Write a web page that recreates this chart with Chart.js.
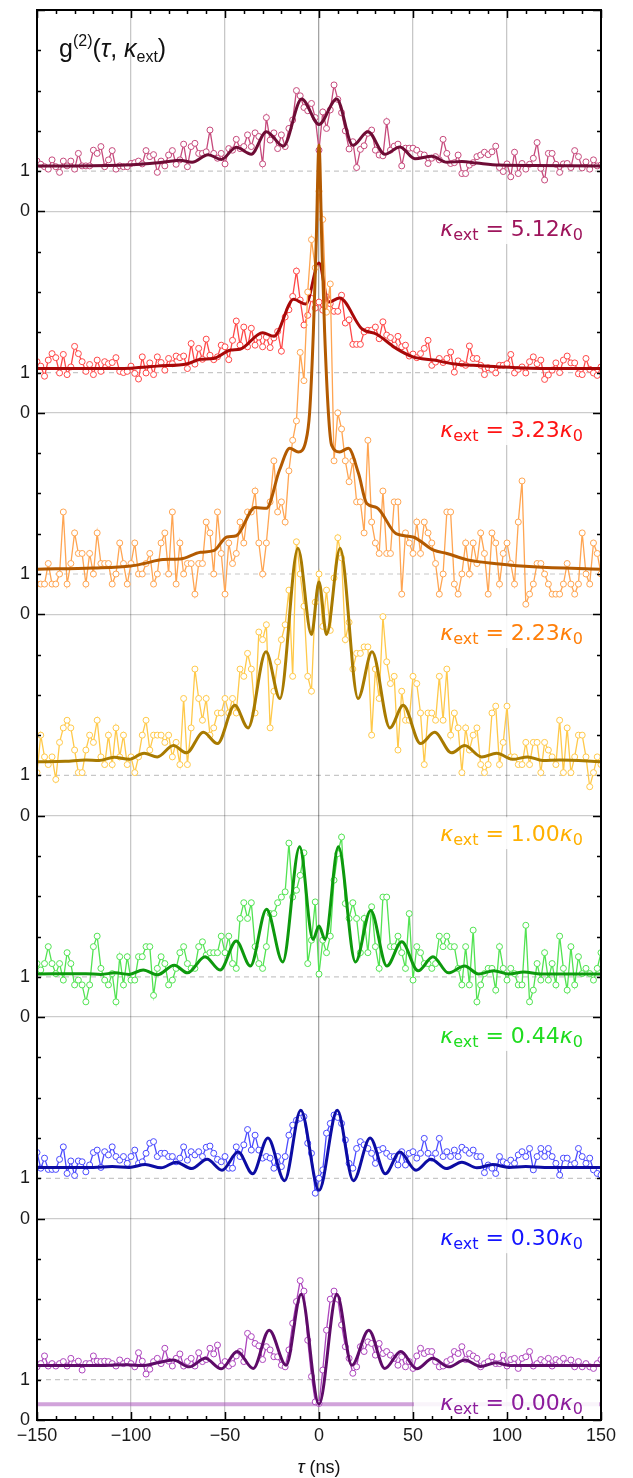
<!DOCTYPE html>
<html>
<head>
<meta charset="utf-8">
<script src="https://cdn.jsdelivr.net/npm/chart.js@4.4.1/dist/chart.umd.min.js"></script>
<style>
  html, body { margin: 0; padding: 0; background: #fff; }
  #wrap { width: 633px; height: 1478px; }
</style>
</head>
<body>
<div id="wrap"><canvas id="g2Chart" width="633" height="1478"></canvas></div>
<script>
// ── Delay axis (ns), one sample every 2 ns ──────────────────
const TAU = [
  -150,-148,-146,-144,-142,-140,-138,-136,-134,-132,
  -130,-128,-126,-124,-122,-120,-118,-116,-114,-112,
  -110,-108,-106,-104,-102,-100,-98,-96,-94,-92,
  -90,-88,-86,-84,-82,-80,-78,-76,-74,-72,
  -70,-68,-66,-64,-62,-60,-58,-56,-54,-52,
  -50,-48,-46,-44,-42,-40,-38,-36,-34,-32,
  -30,-28,-26,-24,-22,-20,-18,-16,-14,-12,
  -10,-8,-6,-4,-2,0,2,4,6,8,
  10,12,14,16,18,20,22,24,26,28,
  30,32,34,36,38,40,42,44,46,48,
  50,52,54,56,58,60,62,64,66,68,
  70,72,74,76,78,80,82,84,86,88,
  90,92,94,96,98,100,102,104,106,108,
  110,112,114,116,118,120,122,124,126,128,
  130,132,134,136,138,140,142,144,146,148,
  150
];

// ── Measured g2 per panel (unshifted) ───────────────────────
const G_512 = [
  1.25,1.17,1.11,1.05,1.28,1.11,0.97,1.25,1.13,1.25,
  1.05,1.44,1.13,1.13,1.13,1.52,1.44,1.61,1.11,1.28,
  1.51,1.05,1.13,1.11,1.11,1.19,1.21,1.25,1.18,1.51,
  1.36,1.41,0.97,1.25,1.13,1.40,1.51,1.17,1.28,1.67,
  1.11,1.61,1.69,1.44,1.44,1.48,2.02,1.44,1.32,1.44,
  1.18,1.56,1.52,1.79,1.56,1.61,1.90,1.61,1.95,1.86,
  1.18,2.33,1.77,1.95,1.56,1.90,1.61,2.06,2.27,3.00,
  2.87,2.58,2.50,2.68,2.33,
  1.52,2.47,2.06,2.52,3.14,2.78,2.45,2.00,1.55,1.73,
  1.09,1.54,1.63,1.94,2.02,1.52,1.40,1.38,2.23,1.52,
  1.62,1.67,1.13,1.57,1.57,1.57,1.52,1.42,1.40,1.19,
  1.32,1.36,1.28,1.79,1.44,1.19,1.21,1.40,0.94,0.94,
  1.15,1.21,1.36,1.40,1.47,1.41,1.48,1.62,1.09,0.99,
  1.18,0.86,1.47,0.94,1.19,1.05,1.17,1.32,1.71,1.07,
  0.78,1.44,1.44,1.17,0.97,1.18,1.19,1.09,1.51,1.36,
  1.08,1.23,1.05,1.28,1.13,1.15
];
const G_323 = [
  1.27,1.16,0.91,1.31,1.47,1.37,0.99,1.45,0.95,1.14,
  1.65,1.47,1.27,1.03,1.20,0.95,1.31,1.03,1.27,1.22,
  1.25,1.37,1.03,1.00,1.03,1.16,0.98,0.84,1.39,0.99,
  1.24,0.95,1.39,1.25,1.06,1.35,1.22,1.41,1.37,1.41,
  1.10,1.72,1.21,1.60,1.33,1.83,1.43,1.32,1.39,1.68,
  1.64,1.32,1.80,2.28,1.68,2.13,1.64,2.10,1.68,1.88,
  1.64,1.88,1.62,1.86,2.02,1.53,2.38,2.56,2.89,3.52,
  2.80,2.18,2.42,2.84,2.60,
  2.75,2.55,2.88,2.71,2.52,2.52,2.92,2.23,2.31,1.70,
  1.70,1.70,2.01,2.05,2.05,2.13,1.84,2.26,1.93,1.87,
  1.68,1.90,1.64,1.68,1.41,1.46,1.37,1.47,1.60,1.80,
  1.18,1.26,1.35,1.25,1.35,1.51,1.01,1.29,1.22,1.18,
  1.66,1.35,1.35,1.18,0.95,1.12,1.08,0.99,1.18,1.18,
  1.22,1.45,0.99,1.08,1.14,0.99,1.27,1.39,1.22,1.31,
  0.83,0.94,1.06,1.24,1.00,1.31,1.41,1.24,1.24,0.97,
  0.95,1.35,1.08,0.99,0.93,1.14
];
const G_223 = [
  0.75,0.75,0.75,1.26,0.75,0.75,1.00,2.54,0.75,1.26,
  2.02,1.51,1.51,0.75,1.51,1.00,2.02,1.26,1.26,1.26,
  0.75,1.00,1.77,1.26,0.75,1.26,1.77,1.00,1.00,1.26,
  1.51,0.75,1.00,1.77,2.02,1.00,2.54,0.75,1.77,1.00,
  1.26,1.26,0.50,1.26,1.26,2.29,2.02,1.00,2.54,1.51,
  0.50,1.77,1.26,1.51,2.29,1.77,2.54,2.54,3.06,1.77,
  1.00,1.77,2.79,3.81,2.54,2.79,2.29,3.56,4.32,
  4.80,6.50,5.80,8.00,9.30,8.60,10.50,9.80,7.50,8.20,
  3.81,5.00,4.60,
  3.81,3.29,3.81,2.79,2.79,2.02,4.32,2.29,1.77,1.51,
  3.06,1.51,1.51,2.79,2.79,0.50,2.02,1.77,1.51,2.29,
  1.51,2.29,2.02,1.77,1.26,0.50,1.00,2.54,2.54,0.75,
  0.50,1.00,1.77,1.00,1.77,1.26,2.02,1.51,0.50,2.02,
  1.77,0.75,1.51,1.77,1.26,0.75,2.29,3.31,0.25,0.50,
  0.75,1.26,1.26,1.00,0.75,0.50,0.50,0.50,0.75,1.26,
  0.75,0.50,0.75,2.02,1.00,0.75,1.77,1.51,1.00
];
const G_100 = [
  1.07,2.00,1.46,1.27,1.46,0.90,1.82,2.18,2.37,2.18,
  1.63,1.07,1.07,1.63,2.00,1.82,2.37,1.46,1.27,2.00,
  1.27,2.18,1.46,2.00,1.27,1.46,1.07,1.46,2.00,2.37,
  1.63,2.00,2.00,2.00,1.82,2.00,1.46,1.82,1.27,2.91,
  1.27,2.18,3.64,2.91,2.37,2.91,2.00,2.18,2.55,2.55,
  2.91,2.55,2.91,2.55,3.64,3.46,4.03,3.64,2.55,4.56,
  4.37,4.74,2.18,3.09,3.82,4.37,4.74,
  5.60,3.46,6.80,6.00,5.20,3.46,3.09,5.30,6.00,4.70,5.60,4.60,5.90,6.90,6.40,
  4.37,4.80,3.64,4.03,4.03,4.19,4.19,2.00,3.64,2.91,
  4.94,3.82,3.28,3.46,1.63,3.09,2.37,2.37,3.46,3.28,
  2.55,1.27,2.55,2.55,2.37,3.46,2.37,3.64,2.00,2.55,
  2.18,1.07,2.18,1.63,2.00,2.18,1.27,1.07,1.27,2.55,
  2.72,1.27,1.82,2.72,1.46,1.46,1.27,1.27,1.82,1.27,
  1.82,1.82,1.07,1.82,1.63,1.46,1.27,2.37,1.07,2.18,
  1.07,1.46,2.00,2.00,1.46,0.72,1.07,1.46,1.27
];
const G_044 = [
  1.33,1.17,1.33,1.75,1.33,1.08,1.33,0.92,1.60,1.33,
  0.80,0.92,0.80,0.38,0.80,1.75,2.01,1.21,0.92,0.80,
  1.08,0.38,1.50,0.80,1.50,0.92,0.92,1.50,1.50,1.75,
  1.75,0.54,1.21,1.50,1.33,0.80,0.92,1.21,1.60,1.75,
  1.33,1.21,1.21,1.75,1.87,1.54,1.60,1.60,1.60,2.01,
  1.60,2.01,1.33,1.21,2.45,2.84,2.45,2.84,1.75,1.33,
  1.21,1.75,2.57,2.57,2.84,2.98,3.11,4.32,2.98,3.15,
  3.52,4.08,1.33,1.91,2.86,1.07,1.91,1.60,2.01,3.40,
  4.06,4.47,2.82,2.45,2.84,2.45,1.60,2.45,1.60,2.74,
  1.75,1.21,2.98,2.98,1.75,1.75,2.01,1.60,1.21,2.57,
  0.92,1.75,1.60,1.33,1.33,1.21,1.33,2.01,1.75,2.01,
  1.75,1.75,1.21,0.80,1.75,0.80,2.16,0.38,0.80,1.08,
  1.21,1.21,0.67,1.75,1.21,0.92,1.21,1.08,0.80,0.80,
  2.28,0.38,0.67,1.33,0.92,1.60,0.92,1.33,0.80,2.01,
  1.21,0.67,1.75,0.80,1.50,1.08,1.21,1.08,0.92,1.21,
  1.60
];
const G_030 = [
  1.64,1.25,1.50,1.22,1.22,1.22,1.47,1.78,1.12,1.43,
  1.07,1.43,1.41,1.16,1.33,1.64,1.70,1.27,1.66,1.58,
  1.78,1.54,1.45,1.54,1.37,1.54,1.70,1.37,1.41,1.62,
  1.87,1.91,1.54,1.62,1.62,1.54,1.54,1.41,1.50,1.78,
  1.45,1.66,1.58,1.66,1.54,1.77,1.80,1.62,1.47,1.41,
  1.54,1.25,1.25,1.78,1.54,1.83,2.21,1.70,2.07,1.70,
  1.50,1.54,1.50,1.25,1.54,1.29,1.54,2.07,2.32,2.44,
  2.49,2.53,1.87,1.62,0.63,1.00,1.21,2.12,2.36,2.57,
  2.51,2.36,1.95,1.37,1.25,1.74,1.91,1.83,1.74,1.62,
  1.37,1.70,1.74,1.62,1.54,1.54,1.33,1.66,1.33,1.62,
  1.66,1.50,1.62,1.99,1.62,1.50,1.62,1.99,1.54,1.66,
  1.54,1.70,1.54,1.77,1.70,1.62,1.70,1.54,1.54,1.14,
  1.33,1.25,1.12,1.54,1.41,1.37,1.45,1.37,1.58,1.66,
  1.54,1.74,1.21,1.54,1.74,1.54,1.74,1.54,1.37,1.08,
  1.50,1.50,1.33,1.37,1.74,1.54,1.37,1.50,1.21,1.12,
  1.08
];
const G_000 = [
  1.32,1.40,1.59,1.34,1.40,1.34,1.40,1.45,1.34,1.53,
  1.40,1.46,1.24,1.40,1.40,1.59,1.46,1.45,1.46,1.45,
  1.40,1.34,1.49,1.40,1.46,1.40,1.32,1.67,1.46,1.14,
  1.26,1.45,1.53,1.40,1.78,1.46,1.34,1.53,1.64,1.34,
  1.45,1.53,1.34,1.67,1.45,1.50,1.78,1.64,1.86,1.34,
  1.45,1.34,1.40,1.59,1.70,1.45,2.15,2.07,1.90,1.84,
  1.50,1.82,1.74,1.57,1.57,1.36,1.32,1.74,2.40,2.94,
  3.46,3.20,1.98,1.08,0.45,0.41,1.24,2.23,3.00,3.20,
  3.00,2.36,1.82,1.53,1.16,1.32,1.82,1.70,1.94,1.90,
  1.61,1.90,1.65,1.70,1.61,1.53,1.36,1.57,1.32,1.45,
  1.28,1.59,1.78,1.65,1.70,1.70,1.45,1.32,1.34,1.45,
  1.50,1.70,1.65,1.82,1.50,1.65,1.59,1.53,1.32,1.40,
  1.45,1.57,1.40,1.40,1.61,1.34,1.50,1.53,1.28,1.53,
  1.57,1.70,1.34,1.40,1.50,1.45,1.53,1.34,1.50,1.45,
  1.53,1.40,1.49,1.32,1.45,1.32,1.40,1.32,1.28,1.40,
  1.50
];

// ── Model curves: [tau, g2] read at extrema / shoulders ─────
const FIT_512 = [[-150,1.13],[-130,1.13],[-112,1.14],[-100,1.16],[-90,1.19],[-80,1.24],[-74,1.27],[-67.5,1.22],[-59,1.41],[-52,1.29],[-44,1.59],[-36,1.42],[-28,1.98],[-19,1.62],[-9.2,2.79],[0,2.16],[9.4,2.79],[18,1.64],[26,1.98],[35,1.42],[43,1.6],[51,1.31],[60,1.37],[68,1.22],[76,1.24],[84,1.2],[96,1.15],[115,1.14],[150,1.13]];
const FIT_323 = [[-150,1.1],[-120,1.1],[-100,1.11],[-86,1.16],[-70,1.22],[-63,1.33],[-56,1.35],[-47,1.56],[-42,1.58],[-30,1.99],[-24,1.9],[-13.5,2.82],[-7,2.7],[0,3.72],[5,2.75],[11,2.85],[22.7,2.09],[30.7,1.95],[41,1.6],[50,1.39],[61,1.31],[71,1.22],[82,1.18],[96,1.14],[123,1.1],[150,1.1]];
const FIT_223 = [[-150,1.12],[-120,1.15],[-100,1.2],[-93,1.26],[-83,1.36],[-74,1.37],[-63,1.54],[-56,1.58],[-49,1.92],[-44,1.95],[-34,2.65],[-28,2.63],[-21,3.58],[-15.5,4.12],[-11,4.03],[-7,4.3],[-5,5.0],[-3,7.0],[-1.5,9.2],[0,11.65],[1.5,9.2],[3,7.0],[5,5.0],[6.7,4.2],[11,4.03],[15.6,4.12],[21,3.5],[25.4,2.75],[30.7,2.65],[41,2.0],[50,1.92],[61,1.59],[68,1.51],[79,1.35],[96,1.25],[114,1.18],[150,1.12]];
const FIT_100 = [[-150,1.34],[-135,1.35],[-124,1.38],[-117,1.37],[-109,1.45],[-101,1.4],[-93,1.55],[-86,1.46],[-77.5,1.74],[-70.5,1.56],[-61.5,2.07],[-54,1.79],[-44.8,2.74],[-37.7,2.18],[-28.2,4.07],[-20.8,2.91],[-11.2,6.64],[-4,4.5],[0,5.8],[4,4.5],[11.2,6.64],[20.8,2.91],[28.2,4.07],[37.7,2.18],[44.8,2.74],[54,1.79],[61.5,2.07],[70.5,1.56],[77.5,1.74],[86.5,1.46],[94.5,1.55],[103,1.4],[111,1.46],[119,1.37],[128,1.38],[150,1.34]];
const FIT_044 = [[-150,1.07],[-124,1.08],[-116,1.06],[-108.5,1.1],[-101,1.06],[-93.5,1.17],[-86,1.05],[-77,1.29],[-70,1.1],[-60.6,1.5],[-52.6,1.17],[-44,1.89],[-36.5,1.27],[-27.9,2.68],[-19.3,1.37],[-10.3,4.23],[-3.2,1.93],[0,2.26],[3.2,1.93],[10.3,4.23],[19.4,1.37],[27.5,2.65],[36.1,1.27],[44,1.87],[52.7,1.15],[60.6,1.5],[68.8,1.1],[77.4,1.27],[84.9,1.07],[92.9,1.15],[101,1.07],[109,1.12],[118,1.07],[150,1.07]];
const FIT_030 = [[-150,1.27],[-120,1.27],[-110,1.29],[-101,1.27],[-92.4,1.34],[-84,1.26],[-76,1.4],[-67.7,1.24],[-59.5,1.47],[-51.6,1.2],[-43,1.65],[-35.3,1.11],[-27.2,2.0],[-18.3,0.94],[-9.7,2.69],[0,0.7],[9.7,2.69],[18.3,0.94],[27.2,2.0],[35.3,1.11],[43,1.65],[51.6,1.2],[59.5,1.47],[67.7,1.24],[76,1.4],[84,1.26],[92.4,1.34],[101,1.27],[110,1.29],[120,1.27],[150,1.27]];
const FIT_000 = [[-150,1.35],[-120,1.35],[-102,1.37],[-94,1.35],[-86,1.42],[-77.5,1.49],[-69,1.32],[-60.5,1.53],[-52,1.27],[-43.5,1.7],[-35,1.28],[-26.5,2.23],[-17.5,1.36],[-9.5,3.12],[0,0.39],[9.5,3.12],[17.5,1.36],[26.5,2.23],[35,1.28],[43.5,1.7],[52,1.27],[60.5,1.53],[69,1.32],[77.5,1.49],[86,1.33],[94,1.42],[102,1.35],[120,1.35],[150,1.35]];

// κ_ext / κ_0 for each panel, top to bottom
const KAPPA = ["5.12", "3.23", "2.23", "1.00", "0.44", "0.30", "0.00"];
const G2_ZERO = 0.39;   // g2(0) level marked in the κ_ext = 0 panel

// ── Layout / style (not data) ───────────────────────────────
const OFFSETS = [30, 25, 20, 15, 10, 5, 0];
const LABEL_Y = [29.39, 24.40, 19.36, 14.37, 9.36, 4.34, 0.25];
const DATA_COLORS  = ["#c64a7c", "#ff4848", "#ffa552", "#ffc94a", "#52e352", "#4a4aff", "#ad45bd"];
const FIT_COLORS   = ["#6e0c35", "#a80808", "#b35a00", "#a87a00", "#0d990d", "#0c0ca3", "#5e0b68"];
const LABEL_COLORS = ["#9e155c", "#ff1414", "#ff7f0a", "#ffb000", "#1fdc1f", "#1414ff", "#8c1c9c"];
const SERIES = [G_512, G_323, G_223, G_100, G_044, G_030, G_000];
const FITS   = [FIT_512, FIT_323, FIT_223, FIT_100, FIT_044, FIT_030, FIT_000];

/* ── Datasets (index 0 ends up on top) ─────────────────────*/
const datasets = [];
for (let i = SERIES.length - 1; i >= 0; i--) {
  const off = OFFSETS[i];
  datasets.push({
    data: FITS[i].map(([t, g]) => ({ x: t, y: g + off })),
    borderColor: FIT_COLORS[i], borderWidth: 3, pointRadius: 0,
    cubicInterpolationMode: "monotone", fill: false
  });
  datasets.push({
    data: TAU.map((t, j) => ({ x: t, y: SERIES[i][j] + off })),
    borderColor: DATA_COLORS[i], borderWidth: 1.3, tension: 0, fill: false,
    pointRadius: 3, pointBorderWidth: 1, pointBackgroundColor: "#fff", pointBorderColor: DATA_COLORS[i]
  });
}
OFFSETS.forEach(off => datasets.push({
  data: [{ x: -150, y: off + 1 }, { x: 150, y: off + 1 }],
  borderColor: "rgba(0,0,0,0.22)", borderDash: [5, 4], borderWidth: 1.2, pointRadius: 0
}));
datasets.push({
  data: [{ x: -150, y: G2_ZERO }, { x: 150, y: G2_ZERO }],
  borderColor: "rgba(172,88,188,0.55)", borderWidth: 4, pointRadius: 0
});

/* ── Helpers ────────────────────────────────────────────────*/
function drawRuns(ctx, runs, x, yBase, align) {
  let w = 0;
  runs.forEach(r => { ctx.font = r.font; r.w = ctx.measureText(r.t).width; w += r.w; });
  let xx = align === "right" ? x - w : align === "center" ? x - w / 2 : x;
  ctx.textAlign = "left";
  ctx.textBaseline = "alphabetic";
  runs.forEach(r => { ctx.font = r.font; ctx.fillText(r.t, xx, yBase + (r.dy || 0)); xx += r.w; });
}

const SANS = '"Liberation Sans", Arial, sans-serif';
const DJV = '"DejaVu Sans", sans-serif';

/* ── Decorations: labels, frame, inward ticks ───────────────*/
const decor = {
  id: "decor",
  afterDatasetsDraw(chart) {
    const { ctx, chartArea: a, scales: { x, y } } = chart;
    ctx.save();

    // kappa labels on translucent white boxes
    KAPPA.forEach((k, i) => {
      const base = y.getPixelForValue(LABEL_Y[i]);
      const top = i === KAPPA.length - 1 ? base - 21 : y.getPixelForValue(OFFSETS[i]) + 1.5;
      ctx.fillStyle = "rgba(255,255,255,0.88)";
      ctx.fillRect(414, top, a.right - 416, base + 8 - top);
      ctx.fillStyle = LABEL_COLORS[i];
      drawRuns(ctx, [
        { t: "\u03BA", font: "oblique 22px " + DJV },
        { t: "ext", font: "16px " + DJV, dy: 4 },
        { t: " = " + k, font: "22px " + DJV },
        { t: "\u03BA", font: "oblique 22px " + DJV },
        { t: "0", font: "16px " + DJV, dy: 4 }
      ], 583, base, "right");
    });

    // frame
    ctx.strokeStyle = "#000";
    ctx.lineWidth = 2;
    ctx.strokeRect(a.left, a.top, a.right - a.left, a.bottom - a.top);

    // inward ticks
    ctx.lineWidth = 1.5;
    ctx.beginPath();
    for (let v = 0; v <= 35; v++) {
      const py = Math.round(y.getPixelForValue(v)) + 0.5;
      const len = v % 5 === 0 ? 8 : 4;
      ctx.moveTo(a.left, py); ctx.lineTo(a.left + len, py);
      ctx.moveTo(a.right, py); ctx.lineTo(a.right - len, py);
    }
    for (let t = -150; t <= 150; t += 10) {
      const px = Math.round(x.getPixelForValue(t)) + 0.5;
      const len = t % 50 === 0 ? 8 : 4;
      ctx.moveTo(px, a.top); ctx.lineTo(px, a.top + len);
      ctx.moveTo(px, a.bottom); ctx.lineTo(px, a.bottom - len);
    }
    ctx.stroke();

    // plot title
    ctx.fillStyle = "#111";
    drawRuns(ctx, [
      { t: "g", font: "25px " + SANS },
      { t: "(2)", font: "16px " + SANS, dy: -11 },
      { t: "(", font: "25px " + SANS },
      { t: "\u03C4", font: "italic 25px " + SANS },
      { t: ", ", font: "25px " + SANS },
      { t: "\u03BA", font: "italic 25px " + SANS },
      { t: "ext", font: "16px " + SANS, dy: 5 },
      { t: ")", font: "25px " + SANS }
    ], 59, 57, "left");

    // x-axis title
    drawRuns(ctx, [
      { t: "\u03C4", font: "italic 19px " + SANS },
      { t: " (ns)", font: "18px " + SANS }
    ], (a.left + a.right) / 2, 1473, "center");

    ctx.restore();
  }
};

/* ── Chart ──────────────────────────────────────────────────*/
new Chart(document.getElementById("g2Chart"), {
  type: "line",
  data: { datasets },
  options: {
    responsive: false,
    animation: false,
    devicePixelRatio: 1,
    layout: { padding: { left: 0, top: 10, right: 32, bottom: 0 } },
    plugins: { legend: { display: false }, tooltip: { enabled: false } },
    scales: {
      x: {
        type: "linear", min: -150, max: 150,
        afterFit: s => { s.height = 58; },
        border: { display: false },
        grid: {
          drawTicks: false, lineWidth: 1.3,
          color: c => {
            const v = c.tick ? c.tick.value : null;
            if (v === 0) return "rgba(0,0,0,0.36)";
            if (v === -100 || v === -50 || v === 50 || v === 100) return "rgba(0,0,0,0.22)";
            return "rgba(0,0,0,0)";
          }
        },
        ticks: {
          stepSize: 50, autoSkip: false, maxRotation: 0, padding: 5,
          color: "#1a1a1a", font: { size: 18, family: SANS },
          callback: v => (v < 0 ? "\u2212" + (-v) : String(v))
        }
      },
      y: {
        type: "linear", min: 0, max: 35,
        // fixed gutter; no extra room reserved above/below for tick labels
        afterFit: s => { s.width = 37; s.paddingTop = 0; s.paddingBottom = 0; },
        border: { display: false },
        grid: {
          drawTicks: false, lineWidth: 1.3,
          color: c => {
            const v = c.tick ? c.tick.value : null;
            return (v > 0 && v < 35 && v % 5 === 0) ? "rgba(0,0,0,0.2)" : "rgba(0,0,0,0)";
          }
        },
        ticks: {
          stepSize: 1, autoSkip: false, padding: 7,
          color: "#1a1a1a", font: { size: 18, family: SANS },
          callback: v => (v === 35 ? null : v % 5 === 0 ? "0" : v % 5 === 1 ? "1" : "")
        }
      }
    }
  },
  plugins: [decor]
});
</script>
</body>
</html>
